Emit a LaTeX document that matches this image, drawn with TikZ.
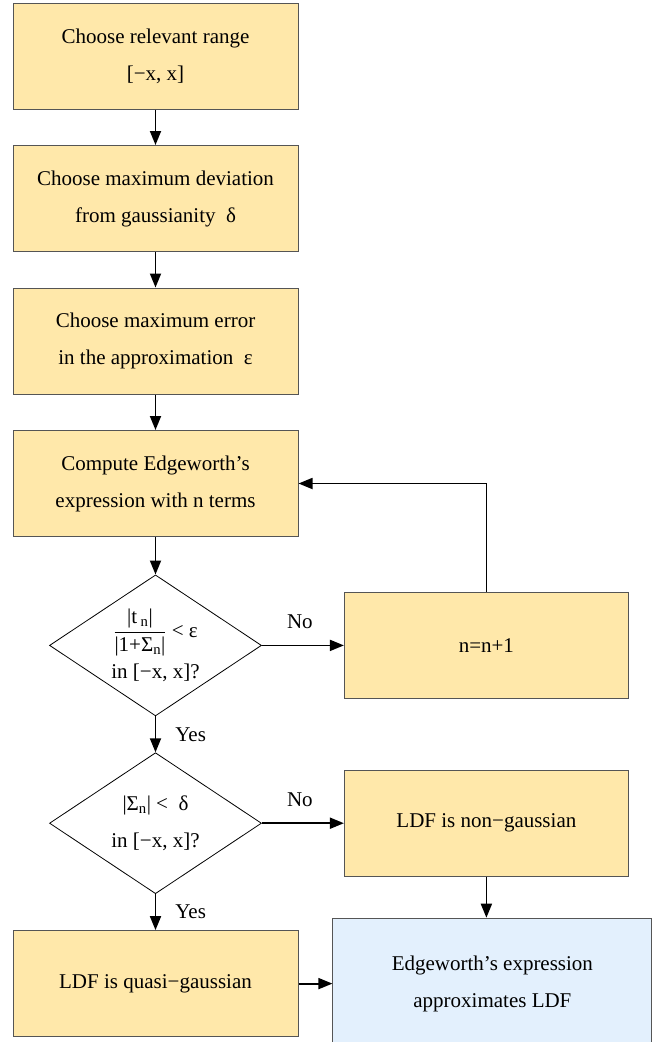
\documentclass[tikz,border=0pt]{standalone}
\usepackage{amsmath}
\usepackage{fontspec}
\setmainfont{Liberation Serif}
\usetikzlibrary{positioning, arrows.meta, shapes.geometric}
\definecolor{boxYellow}{HTML}{FFE8AA}
\definecolor{boxBlue}{HTML}{E3F0FD}
\definecolor{boxEdge}{HTML}{555555}

\begin{document}
\begin{tikzpicture}[
      every node/.style={font=\fontsize{21}{37}\selectfont},
      box/.style={rectangle, draw=boxEdge, fill=boxYellow, line width=1pt,
                  minimum width=285pt, minimum height=106pt, align=center, inner sep=0pt},
      boxres/.style={box, fill=boxBlue, minimum width=319pt, minimum height=132pt},
      dec/.style={diamond, draw=black, line width=0.8pt, minimum width=212pt,
                  minimum height=141pt, inner sep=0pt},
      dectext/.style={align=center, inner sep=0pt},
      lbl/.style={inner sep=0pt},
      arr/.style={-{Triangle[length=14pt, width=11pt]}, black, line width=1.8pt},
    ]

      \useasboundingbox (0,0) rectangle (655pt,-1042pt);

      % main column
      \node[box] (range) at (155.5pt,-56pt) {Choose relevant range\\{[−x, x]}};
      \node[box, below=35.5pt of range] (dev) {Choose maximum deviation\\from gaussianity\enspace δ};
      \node[box, below=35.5pt of dev] (err) {Choose maximum error\\in the approximation\enspace ε};
      \node[box, below=35.5pt of err] (edgexp) {Compute Edgeworth’s\\expression with n terms};

      % decisions
      \node[dec, below=37.5pt of edgexp] (dterm) {};
      \node[dectext] (dtermtext) at (dterm.center)
        {$\dfrac{\text{|t\,\textsubscript{n}|}}{\text{|1+Σ\textsubscript{n}|}}$ < ε\\[4pt]in [−x, x]?};
      \node[dec, below=36pt of dterm] (dsum) {};
      \node[dectext] (dsumtext) at (dsum.center) {|Σ\textsubscript{n}| < ~δ\\in [−x, x]?};
      \node[box, below=36pt of dsum] (quasi) {LDF is quasi−gaussian};

      % right column
      \node[box, minimum width=284pt, right=82pt of dterm] (incr) {n=n+1};
      \node[box, minimum width=284pt, right=82pt of dsum] (nongauss) {LDF is non−gaussian};
      \node[boxres, below=41pt of nongauss, xshift=6pt] (approx) {Edgeworth’s expression\\approximates LDF};

      % arrows
      \draw[arr] (range) -- (dev);
      \draw[arr] (dev) -- (err);
      \draw[arr] (err) -- (edgexp);
      \draw[arr] (edgexp) -- (dterm);
      \draw[arr] (dterm) -- node[lbl, right=19pt] (yes1) {Yes} (dsum);
      \draw[arr] (dsum) -- node[lbl, right=19pt] (yes2) {Yes} (quasi);
      \draw[arr] (dterm.east) -- node[lbl, above=16pt, xshift=-3pt] (no1) {No} (incr.west);
      \draw[arr] (dsum.east) -- node[lbl, above=16pt, xshift=-3pt] (no2) {No} (nongauss.west);
      \draw[arr] (incr.north) |- (edgexp.east);
      \draw[arr] (nongauss.south) -- (nongauss.south |- approx.north);
      \draw[arr] (quasi.east) -- (quasi.east -| approx.west);

    \end{tikzpicture}
\end{document}
